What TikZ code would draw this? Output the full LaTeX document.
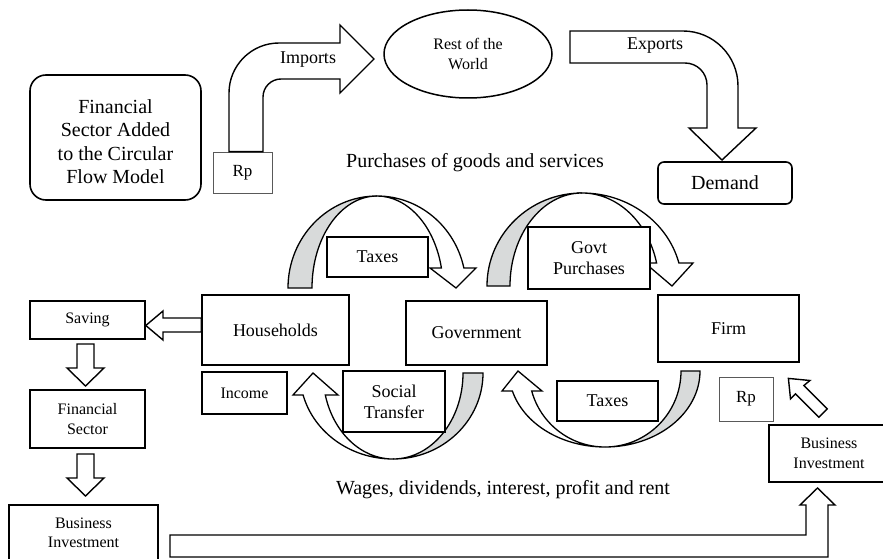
\documentclass[tikz,border=0pt]{standalone}
\usepackage{fontspec}
\setmainfont{Liberation Serif}
\usetikzlibrary{shapes.geometric}
\definecolor{bandgray}{RGB}{216,218,218}
\begin{document}
\begin{tikzpicture}[x=1pt,y=-1pt,
  box/.style={draw, line width=1.6pt, fill=white, inner sep=0pt, align=center},
  thinbox/.style={draw=black!65, line width=0.8pt, fill=white, inner sep=0pt, align=center},
  band/.style={draw, line width=1.3pt, line join=miter},
  blockarrow/.style={draw, fill=white, line width=1.4pt, line join=miter},
  f16/.style={font=\fontsize{16}{19.5}\selectfont},
  f17/.style={font=\fontsize{17}{20}\selectfont},
  f18/.style={font=\fontsize{18}{21}\selectfont},
  f20/.style={font=\fontsize{20}{24}\selectfont}]
\useasboundingbox (0,0) rectangle (883,559);

% ---- curved flows (shaded back face + white arrow face) ----
% households -> government (taxes)
\filldraw[band, fill=bandgray] (288,288) arc[start angle=180,end angle=90,x radius=89pt,y radius=92pt]
  arc[start angle=90,end angle=180,x radius=65pt,y radius=92pt] -- cycle;
\filldraw[band, fill=white] (377,196) arc[start angle=90,end angle=12.56,x radius=89pt,y radius=92pt]
  -- (476,268) -- (456,288) -- (430,268) -- (441.4,268)
  arc[start angle=12.56,end angle=90,x radius=66pt,y radius=92pt] -- cycle;
% government -> firm (purchases)
\filldraw[band, fill=bandgray] (487,286) arc[start angle=180,end angle=90,x radius=95pt,y radius=93pt]
  arc[start angle=90,end angle=180,x radius=72pt,y radius=93pt] -- cycle;
\filldraw[band, fill=white] (582,193) arc[start angle=90,end angle=14.32,x radius=100pt,y radius=93pt]
  -- (693,263) -- (672,286) -- (645,263) -- (656.6,263)
  arc[start angle=14.32,end angle=90,x radius=77pt,y radius=93pt] -- cycle;
% government -> households (transfers)
\filldraw[band, fill=bandgray] (483,373) arc[start angle=0,end angle=-90,x radius=90pt,y radius=86pt]
  arc[start angle=-90,end angle=0,x radius=70pt,y radius=86pt] -- cycle;
\filldraw[band, fill=white] (393,459) arc[start angle=-90,end angle=-165.2,x radius=93pt,y radius=86pt]
  -- (293,395) -- (313,373) -- (338,395) -- (325.3,395)
  arc[start angle=-165.2,end angle=-90,x radius=70pt,y radius=86pt] -- cycle;
% firm -> government (taxes)
\filldraw[band, fill=bandgray] (700,371) arc[start angle=0,end angle=-90,x radius=95pt,y radius=76pt]
  arc[start angle=-90,end angle=0,x radius=76pt,y radius=76pt] -- cycle;
\filldraw[band, fill=white] (605,447) arc[start angle=-90,end angle=-164.74,x radius=96pt,y radius=76pt]
  -- (502,391) -- (518,371) -- (542,391) -- (531.7,391)
  arc[start angle=-164.74,end angle=-90,x radius=76pt,y radius=76pt] -- cycle;

% ---- nodes ----
\node[box, rounded corners=16pt, minimum width=171pt, minimum height=125pt] (title) at (115.5,137.5) {};
\node[align=center, inner sep=0pt, font=\fontsize{20}{23.5}\selectfont] (titletext) at (115.5,141.5)
  {Financial\\Sector Added\\to the Circular\\Flow Model};
\node[thinbox, minimum width=59pt, minimum height=41pt, f17] (rpL) at (242.5,172.5) {Rp};
\node[draw, ellipse, line width=1.5pt, minimum width=168pt, minimum height=88pt, inner sep=0pt,
  align=center, f16] (world) at (468,54) {Rest of the\\World};
\node[box, rounded corners=6pt, minimum width=134pt, minimum height=42pt, f20] (demand) at (725,183) {Demand};
\node[f20] (purch) at (475,163) {Purchases of goods and services};
\node[f20] (wages) at (503,490) {Wages, dividends, interest, profit and rent};

\node[box, minimum width=147pt, minimum height=70pt, f18] (hh) at (275.5,330) {Households};
\node[box, minimum width=141pt, minimum height=64pt, f18] (gov) at (476.5,333) {Government};
\node[box, minimum width=141pt, minimum height=67pt, f18] (firm) at (728.5,328.5) {Firm};
\node[box, minimum width=115pt, minimum height=38pt, f16] (saving) at (87.5,320) {Saving};
\node[box, minimum width=115pt, minimum height=58pt, f16] (fin) at (87.5,419) {Financial\\Sector};
\node[box, minimum width=149pt, minimum height=56pt, f16] (bizL) at (83.5,533) {Business\\Investment};
\node[box, minimum width=120pt, minimum height=57pt, f16] (bizR) at (829,453.5) {Business\\Investment};
\node[thinbox, minimum width=54pt, minimum height=44pt, f17] (rpR) at (746,399) {Rp};
\node[box, minimum width=85pt, minimum height=42pt, f16] (income) at (244.5,393) {Income};
\node[box, minimum width=102pt, minimum height=61pt, f18] (social) at (394,401.5) {Social\\Transfer};
\node[box, minimum width=101pt, minimum height=40pt, f18] (taxT) at (377.5,257) {Taxes};
\node[box, minimum width=122pt, minimum height=62pt, f18] (govp) at (589,258) {Govt\\Purchases};
\node[box, minimum width=101pt, minimum height=40pt, f18] (taxB) at (607.5,401) {Taxes};

% ---- block arrows ----
% imports: Rp up and round into the rest of the world
\filldraw[blockarrow] (rpL.north -| 229,0) -- (229,93) arc[start angle=180,end angle=90,radius=50pt]
  -- (340,43) -- (340,25) -- (374,59) -- (340,93) -- (340,79) -- (281,79)
  arc[start angle=90,end angle=180,radius=18pt] -- (rpL.north -| 263,0) -- cycle;
\node[f18] (imp) at (308,60) {Imports};
% exports: rest of the world round and down into demand
\filldraw[blockarrow] (570,31) -- (683,31) arc[start angle=90,end angle=0,radius=55pt]
  -- (738,128) -- (756,128) -- (722,160) -- (689,128) -- (707,128) -- (707,85)
  arc[start angle=0,end angle=90,radius=22pt] -- (570,63) -- cycle;
\node[f18] (exp) at (655,46) {Exports};
% households -> saving
\filldraw[blockarrow] (hh.west |- 0,318) -- (163,318) -- (163,311) -- (saving.east |- 0,325.5)
  -- (163,340) -- (163,332) -- (hh.west |- 0,332) -- cycle;
% saving -> financial sector -> business investment
\filldraw[blockarrow] (77,344) -- (94,344) -- (94,368) -- (104,368) -- (85.5,386) -- (67,368) -- (77,368) -- cycle;
\filldraw[blockarrow] (77,454) -- (94,454) -- (94,478) -- (104,478) -- (85.5,496) -- (67,478) -- (77,478) -- cycle;
% business investment along the bottom and up to the right
\filldraw[blockarrow] (170,535) -- (806,535) -- (806,505) -- (800,505) -- (817.5,488) -- (835,505)
  -- (828,505) -- (828,557) -- (170,557) -- cycle;
% business investment -> firm
\filldraw[blockarrow] (827.2,408.8) -- (803.9,385.5) -- (809.9,380.5) -- (788.4,378.4)
  -- (790.5,398.9) -- (795.5,393.9) -- (818.8,417.2) -- cycle;
\end{tikzpicture}
\end{document}
